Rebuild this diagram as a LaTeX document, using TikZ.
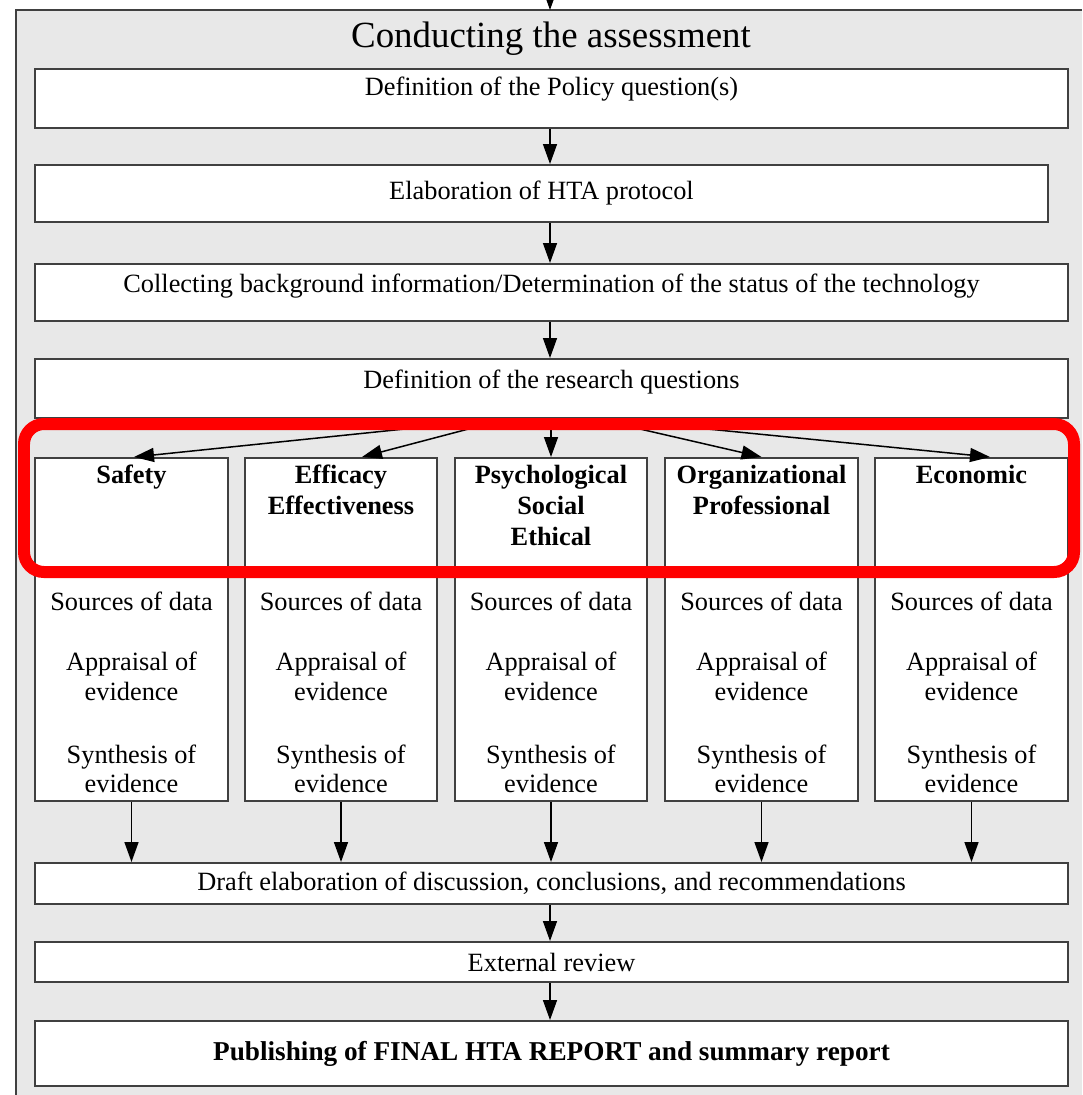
\documentclass[tikz,border=0pt]{standalone}
\usepackage{fontspec}
\setmainfont{Liberation Serif}
\usepackage{tikz}
\usetikzlibrary{arrows.meta,positioning}
\definecolor{panelgray}{gray}{0.91}
\definecolor{boxline}{gray}{0.25}
\tikzset{
  stage/.style={draw=boxline,fill=white,line width=0.04cm,inner sep=0pt,
    minimum width=20.66cm,font=\fontsize{15}{18}\selectfont},
  column/.style={draw=boxline,fill=white,line width=0.04cm,inner sep=0pt,
    minimum width=3.86cm,minimum height=6.86cm,anchor=north},
  coltitle/.style={inner sep=0pt,align=center,
    font=\bfseries\fontsize{15}{17.6}\selectfont},
  colbody/.style={inner sep=0pt,anchor=north,align=center,
    font=\fontsize{15}{16.9}\selectfont},
  flow/.style={-{Triangle[width=0.28cm,length=0.4cm]},line width=0.03cm},
  highlight/.style={draw=red,line width=0.24cm,rounded corners=0.4cm}
}
\newcommand{\evidencesteps}{Sources of data\\[17.2pt]Appraisal of\\evidence\\[18.8pt]Synthesis of\\evidence}

\begin{document}
\begin{tikzpicture}[x=0.02cm,y=-0.02cm]
  \useasboundingbox (0,0) rectangle (1082,1095);
  % grey panel
  \fill[panelgray] (16,10) rectangle (1082,1095);
  \draw[boxline,line width=0.04cm] (16,1095) -- (16,10) -- (1082,10);
  \coordinate (entry) at (550,0);
  \coordinate (paneltop) at (550,10);
  \draw[flow] (entry) -- (paneltop);
  \node[anchor=base,inner sep=0pt,font=\fontsize{21}{24}\selectfont] (title) at (551,48) {Conducting the assessment};

  % main steps
  \node[stage,anchor=north,text height=0.54cm,text depth=0.64cm] (policy) at (551.5,68) {Definition of the Policy question(s)};
  \node[stage,minimum width=20.26cm,minimum height=1.14cm] (protocol) at (541.5,193.5) {Elaboration of HTA protocol};
  \node[stage,anchor=north,text height=0.58cm,text depth=0.56cm] (background) at (551.5,263) {Collecting background information/Determination of the status of the technology};
  \node[stage,anchor=north,text height=0.6cm,text depth=0.58cm] (research) at (551.5,358) {Definition of the research questions};

  % domains
  \node[column] (colSafety) at (131.5,457) {};
  \node[column] (colEff) at (341,457) {};
  \node[column] (colPsy) at (551,457) {};
  \node[column] (colOrg) at (761.5,457) {};
  \node[column] (colEcon) at (971.5,457) {};
  \node[coltitle,below=0.16cm of colSafety.north] (titleSafety) {Safety};
  \node[coltitle,below=0.16cm of colEff.north] (titleEff) {Efficacy\\Effectiveness};
  \node[coltitle,below=0.16cm of colPsy.north] (titlePsy) {Psychological\\Social\\Ethical};
  \node[coltitle,below=0.16cm of colOrg.north] (titleOrg) {Organizational\\Professional};
  \node[coltitle,below=0.16cm of colEcon.north] (titleEcon) {Economic};
  \node[colbody] (bodySafety) at (131.5,592) {\evidencesteps};
  \node[colbody] (bodyEff) at (341,592) {\evidencesteps};
  \node[colbody] (bodyPsy) at (551,592) {\evidencesteps};
  \node[colbody] (bodyOrg) at (761.5,592) {\evidencesteps};
  \node[colbody] (bodyEcon) at (971.5,592) {\evidencesteps};

  \node[stage,minimum height=0.82cm] (draft) at (551.5,883.5) {Draft elaboration of discussion, conclusions, and recommendations};
  \node[stage,minimum height=0.8cm] (review) at (551.5,962) {External review};
  \node[stage,minimum height=1.3cm,font=\bfseries\fontsize{15.5}{18}\selectfont] (publish) at (551.5,1053.5) {Publishing of FINAL HTA REPORT and summary report};

  % arrows
  \draw[flow] (policy.south -| paneltop) -- (protocol.north -| paneltop);
  \draw[flow] (protocol.south -| paneltop) -- (background.north -| paneltop);
  \draw[flow] (background.south -| paneltop) -- (research.north -| paneltop);
  \draw[flow] ([xshift=-1cm]research.south) -- ([xshift=0.05cm]colSafety.north);
  \draw[flow] ([xshift=-0.9cm]research.south) -- ([xshift=0.42cm]colEff.north);
  \draw[flow] (colPsy.north |- research.south) -- (colPsy.north);
  \draw[flow] ([xshift=0.9cm]research.south) -- (colOrg.north);
  \draw[flow] ([xshift=1.1cm]research.south) -- ([xshift=0.37cm]colEcon.north);
  \draw[flow] (colSafety.south) -- (colSafety.south |- draft.north);
  \draw[flow] (colEff.south) -- (colEff.south |- draft.north);
  \draw[flow] (colPsy.south) -- (colPsy.south |- draft.north);
  \draw[flow] (colOrg.south) -- (colOrg.south |- draft.north);
  \draw[flow] (colEcon.south) -- (colEcon.south |- draft.north);
  \draw[flow] (draft.south -| paneltop) -- (review.north -| paneltop);
  \draw[flow] (review.south -| paneltop) -- (publish.north -| paneltop);

  % red highlight
  \draw[highlight] (24,424) rectangle (1074,572);
\end{tikzpicture}
\end{document}
